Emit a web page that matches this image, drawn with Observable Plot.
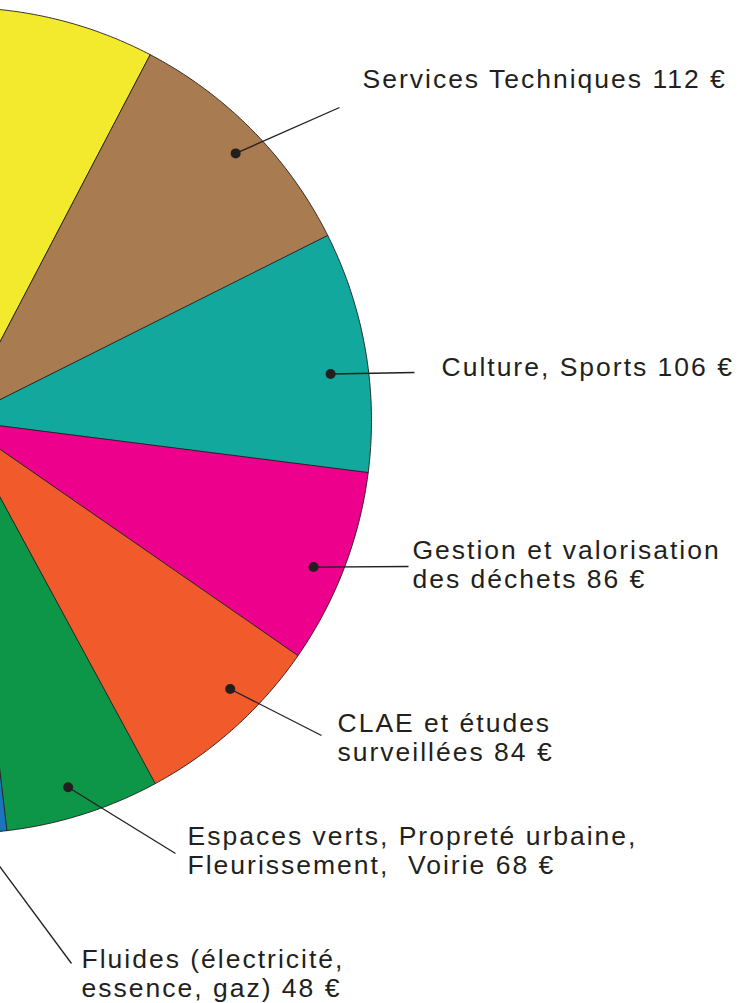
<!DOCTYPE html>
<html>
<head>
<meta charset="utf-8">
<script src="https://cdn.jsdelivr.net/npm/d3@7"></script>
<script src="https://cdn.jsdelivr.net/npm/@observablehq/plot@0.6"></script>
<style>
html, body { margin: 0; padding: 0; background: #fff; overflow: hidden; }
#chart svg text { white-space: pre; }
</style>
</head>
<body>
<div id="chart"></div>
<script>
// ---- Data (slices after "Fluides" lie outside the frame) ----
const categories = [
  "Services Techniques",
  "Culture, Sports",
  "Gestion et valorisation des déchets",
  "CLAE et études surveillées",
  "Espaces verts, Propreté urbaine, Fleurissement, Voirie",
  "Fluides (électricité, essence, gaz)",
  "Hors cadre A",
  "Hors cadre B",
  "Hors cadre C"
];
const values = [112, 106, 86, 84, 68, 48, 250, 223, 150];
const colors = ["#a87b51", "#12a89d", "#ec008c", "#f15a2b", "#0e9648", "#1b75bc", "#8a5a9e", "#6d6e71", "#f3ea2e"];
const labelTexts = [
  "Services Techniques 112 €",
  "Culture, Sports 106 €",
  "Gestion et valorisation\ndes déchets 86 €",
  "CLAE et études\nsurveillées 84 €",
  "Espaces verts, Propreté urbaine,\nFleurissement,  Voirie 68 €",
  "Fluides (électricité,\nessence, gaz) 48 €"
];

// ---- Layout ----
const W = 739, H = 1003;
const CX = -42, CY = 420, R = 413;           // pie centre / radius in pixels
const START = 27.6 * Math.PI / 180;           // angle of first slice edge (clockwise from 12 o'clock)
const dotT = [0.516, 0.576, 0.553, 0.371, 0.544, 0.5];
const dotR = [0.932, 0.908, 0.93, 0.925, 0.927, 0.925];
const leaderEndPx = [[339, 107], [414, 372], [408, 566], [321, 735], [175, 853], [71, 963]];
const labelPx = [[362, 87], [441, 375], [412, 587], [337, 760], [187, 873], [81, 996]];
const toData = ([px, py]) => [(px - CX) / R, (CY - py) / R];

const slices = categories.map((name, i) => ({name, value: values[i]}));
const arcs = d3.pie().sort(null).value(d => d.value)
  .startAngle(START).endAngle(START + 2 * Math.PI)(slices);

const poly = [];
arcs.forEach(a => {
  const name = a.data.name;
  poly.push({name, x: 0, y: 0});
  const n = Math.max(2, Math.ceil((a.endAngle - a.startAngle) / (Math.PI / 360)));
  for (let i = 0; i <= n; i++) {
    const t = a.startAngle + (a.endAngle - a.startAngle) * i / n;
    poly.push({name, x: Math.sin(t), y: Math.cos(t)});
  }
});

const labelled = labelTexts.map((text, i) => {
  const a = arcs[i];
  const ang = a.startAngle + (a.endAngle - a.startAngle) * dotT[i];
  const [ex, ey] = toData(leaderEndPx[i]);
  const [lx, ly] = toData(labelPx[i]);
  return {
    text,
    dx: dotR[i] * Math.sin(ang), dy: dotR[i] * Math.cos(ang),
    ex, ey, lx, ly
  };
});

const chart = Plot.plot({
  width: W,
  height: H,
  margin: 0,
  style: {fontFamily: "'Liberation Sans', Arial, sans-serif", letterSpacing: "2px", background: "#fff"},
  x: {domain: [(0 - CX) / R, (W - CX) / R], axis: null},
  y: {domain: [(CY - H) / R, CY / R], axis: null},
  color: {domain: categories, range: colors},
  marks: [
    Plot.line(poly, {x: "x", y: "y", z: "name", fill: "name", stroke: "#231f20", strokeWidth: 0.9, curve: "linear-closed"}),
    Plot.link(labelled, {x1: "dx", y1: "dy", x2: "ex", y2: "ey", stroke: "#231f20", strokeWidth: 1.3}),
    Plot.dot(labelled, {x: "dx", y: "dy", r: 5, fill: "#231f20"}),
    Plot.text(labelled, {x: "lx", y: "ly", text: "text", textAnchor: "start", lineAnchor: "bottom",
      fontSize: 26.5, lineHeight: 1.08, fill: "#231f20"})
  ]
});
document.getElementById("chart").appendChild(chart);
</script>
</body>
</html>
